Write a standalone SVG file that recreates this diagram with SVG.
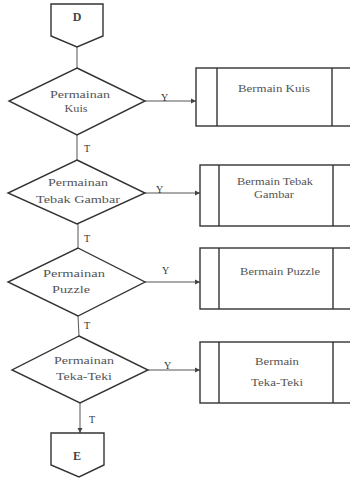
<svg xmlns="http://www.w3.org/2000/svg" width="350" height="479" viewBox="0 0 350 479">
<style>
.s{fill:#fff;stroke:#333;stroke-width:1.4}
.c{fill:none;stroke:#555;stroke-width:1}
.t{font-family:"Liberation Serif","Times New Roman",serif;font-size:11px;fill:#555;text-anchor:middle}
.b{font-family:"Liberation Serif","Times New Roman",serif;font-size:12px;font-weight:bold;fill:#444;text-anchor:middle}
.l{font-family:"Liberation Serif","Times New Roman",serif;font-size:10px;fill:#333}
</style>
<defs>
<marker id="a" markerWidth="6" markerHeight="6" refX="5" refY="3" orient="auto" markerUnits="userSpaceOnUse">
<path d="M0,0.5 L5,3 L0,5.5 z" fill="#444"/>
</marker>
</defs>
<rect width="350" height="479" fill="#fff"/>
<g id="connectors">
<line class="c" x1="77" y1="47" x2="77" y2="68"/>
<line class="c" x1="77" y1="135" x2="77" y2="160"/>
<line class="c" x1="78" y1="224" x2="78" y2="248"/>
<line class="c" x1="78" y1="316" x2="79" y2="336"/>
<line class="c" x1="80" y1="403" x2="80" y2="433" marker-end="url(#a)"/>
<line class="c" x1="145" y1="101" x2="196" y2="101" marker-end="url(#a)"/>
<line class="c" x1="145" y1="193" x2="200" y2="193" marker-end="url(#a)"/>
<line class="c" x1="145" y1="282" x2="200" y2="282" marker-end="url(#a)"/>
<line class="c" x1="148" y1="370" x2="200" y2="370" marker-end="url(#a)"/>
<text class="l" x="161" y="101">Y</text>
<text class="l" x="84" y="152">T</text>
<text class="l" x="156" y="193">Y</text>
<text class="l" x="84" y="242">T</text>
<text class="l" x="162" y="274">Y</text>
<text class="l" x="84" y="329">T</text>
<text class="l" x="164" y="369">Y</text>
<text class="l" x="89" y="423">T</text>
</g>
<g id="D">
<path class="s" d="M51,4 H103 V36 L77,47 L51,36 Z"/>
<text class="b" x="77" y="21">D</text>
</g>
<g id="dec1">
<path class="s" d="M77,68 L145,101 L77,135 L9,101 Z"/>
<text class="t" x="80" y="98" textLength="60" lengthAdjust="spacingAndGlyphs">Permainan</text>
<text class="t" x="76" y="112" textLength="23" lengthAdjust="spacingAndGlyphs">Kuis</text>
</g>
<g id="box1">
<rect class="s" x="196" y="68" width="160" height="58"/>
<line class="s" x1="217" y1="68" x2="217" y2="126"/>
<line class="s" x1="332" y1="68" x2="332" y2="126"/>
<text class="t" x="274" y="92" textLength="72" lengthAdjust="spacingAndGlyphs">Bermain Kuis</text>
</g>
<g id="dec2">
<path class="s" d="M77,160 L145,193 L77,224 L8,193 Z"/>
<text class="t" x="78" y="186" textLength="60" lengthAdjust="spacingAndGlyphs">Permainan</text>
<text class="t" x="78" y="203" textLength="84" lengthAdjust="spacingAndGlyphs">Tebak Gambar</text>
</g>
<g id="box2">
<rect class="s" x="200" y="165" width="156" height="61"/>
<line class="s" x1="219" y1="165" x2="219" y2="226"/>
<line class="s" x1="333" y1="165" x2="333" y2="226"/>
<text class="t" x="275" y="185" textLength="76" lengthAdjust="spacingAndGlyphs">Bermain Tebak</text>
<text class="t" x="274" y="198" textLength="40" lengthAdjust="spacingAndGlyphs">Gambar</text>
</g>
<g id="dec3">
<path class="s" d="M78,248 L145,282 L78,316 L8,282 Z"/>
<text class="t" x="74" y="277" textLength="62" lengthAdjust="spacingAndGlyphs">Permainan</text>
<text class="t" x="71" y="293" textLength="38" lengthAdjust="spacingAndGlyphs">Puzzle</text>
</g>
<g id="box3">
<rect class="s" x="200" y="248" width="156" height="61"/>
<line class="s" x1="219" y1="248" x2="219" y2="309"/>
<line class="s" x1="333" y1="248" x2="333" y2="309"/>
<text class="t" x="280" y="275" textLength="80" lengthAdjust="spacingAndGlyphs">Bermain Puzzle</text>
</g>
<g id="dec4">
<path class="s" d="M79,336 L148,370 L80,403 L12,370 Z"/>
<text class="t" x="84" y="364" textLength="60" lengthAdjust="spacingAndGlyphs">Permainan</text>
<text class="t" x="84" y="380" textLength="56" lengthAdjust="spacingAndGlyphs">Teka-Teki</text>
</g>
<g id="box4">
<rect class="s" x="200" y="342" width="156" height="61"/>
<line class="s" x1="219" y1="342" x2="219" y2="403"/>
<line class="s" x1="333" y1="342" x2="333" y2="403"/>
<text class="t" x="277" y="365" textLength="44" lengthAdjust="spacingAndGlyphs">Bermain</text>
<text class="t" x="277" y="386" textLength="52" lengthAdjust="spacingAndGlyphs">Teka-Teki</text>
</g>
<g id="E">
<path class="s" d="M51,433 H104 V465 L79,477 L51,465 Z"/>
<text class="b" x="77" y="460">E</text>
</g>
</svg>
